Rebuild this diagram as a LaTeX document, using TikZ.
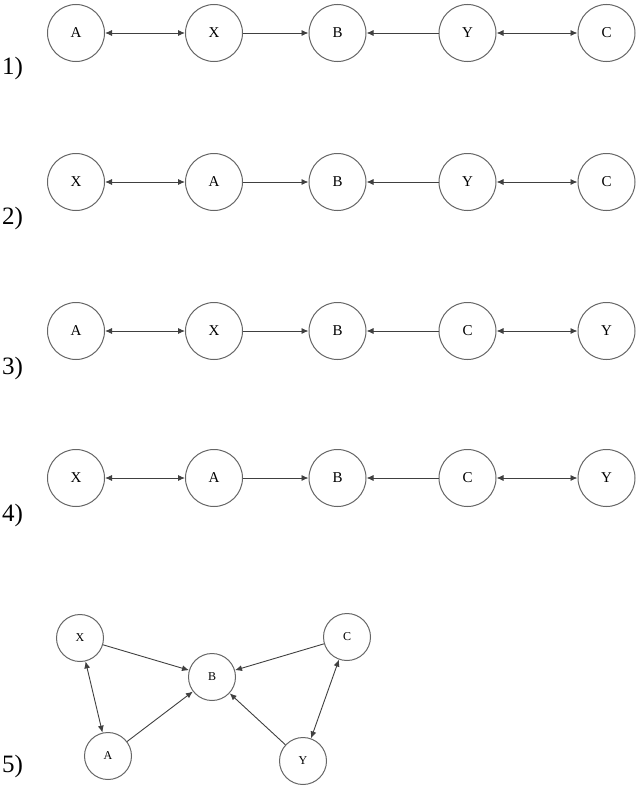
\documentclass[tikz,border=0pt]{standalone}
\usepackage{fontspec}
\setmainfont{Liberation Serif}
\usetikzlibrary{arrows.meta}
\tikzset{
  vnode/.style={circle,draw=black!60,line width=1bp,minimum size=57bp,inner sep=0pt,font=\fontsize{15bp}{18bp}\selectfont},
  snode/.style={circle,draw=black!60,line width=1bp,minimum size=47bp,inner sep=0pt,font=\fontsize{12bp}{14bp}\selectfont},
  lab/.style={anchor=base west,inner sep=0pt,font=\fontsize{25bp}{30bp}\selectfont},
  edge/.style={draw=black!75,line width=0.9bp,-{Latex[length=7bp,width=6bp]}},
  bedge/.style={draw=black!75,line width=0.9bp,{Latex[length=7bp,width=6bp]}-{Latex[length=7bp,width=6bp]}},
}
\begin{document}
\begin{tikzpicture}[x=1bp,y=-1bp]
\useasboundingbox (0,0) rectangle (640,789);
% Row 1
\node[vnode] (a1) at (76,33) {A};
\node[vnode] (x1) at (214,33) {X};
\node[vnode] (b1) at (337.5,33) {B};
\node[vnode] (y1) at (467.5,33) {Y};
\node[vnode] (c1) at (606.5,33) {C};
\node[lab] (l1) at (2,75) {1)};
\draw[bedge] (a1) -- (x1);
\draw[edge] (x1) -- (b1);
\draw[edge] (y1) -- (b1);
\draw[bedge] (y1) -- (c1);
% Row 2
\node[vnode] (x2) at (76,182) {X};
\node[vnode] (a2) at (214,182) {A};
\node[vnode] (b2) at (337.5,182) {B};
\node[vnode] (y2) at (467.5,182) {Y};
\node[vnode] (c2) at (606.5,182) {C};
\node[lab] (l2) at (2,224) {2)};
\draw[bedge] (x2) -- (a2);
\draw[edge] (a2) -- (b2);
\draw[edge] (y2) -- (b2);
\draw[bedge] (y2) -- (c2);
% Row 3
\node[vnode] (a3) at (76,331) {A};
\node[vnode] (x3) at (214,331) {X};
\node[vnode] (b3) at (337.5,331) {B};
\node[vnode] (c3) at (467.5,331) {C};
\node[vnode] (y3) at (606.5,331) {Y};
\node[lab] (l3) at (2,374) {3)};
\draw[bedge] (a3) -- (x3);
\draw[edge] (x3) -- (b3);
\draw[edge] (c3) -- (b3);
\draw[bedge] (c3) -- (y3);
% Row 4
\node[vnode] (x4) at (76,478) {X};
\node[vnode] (a4) at (214,478) {A};
\node[vnode] (b4) at (337.5,478) {B};
\node[vnode] (c4) at (467.5,478) {C};
\node[vnode] (y4) at (606.5,478) {Y};
\node[lab] (l4) at (2,521) {4)};
\draw[bedge] (x4) -- (a4);
\draw[edge] (a4) -- (b4);
\draw[edge] (c4) -- (b4);
\draw[bedge] (c4) -- (y4);
% Diagram 5
\node[snode] (x5) at (80,638) {X};
\node[snode] (b5) at (212,677) {B};
\node[snode] (c5) at (347,637) {C};
\node[snode] (a5) at (108,756) {A};
\node[snode] (y5) at (303,761) {Y};
\node[lab] (l5) at (2,772) {5)};
\draw[bedge] (x5) -- (a5);
\draw[edge] (x5) -- (b5);
\draw[edge] (a5) -- (b5);
\draw[edge] (c5) -- (b5);
\draw[edge] (y5) -- (b5);
\draw[bedge] (c5) -- (y5);
\end{tikzpicture}
\end{document}
